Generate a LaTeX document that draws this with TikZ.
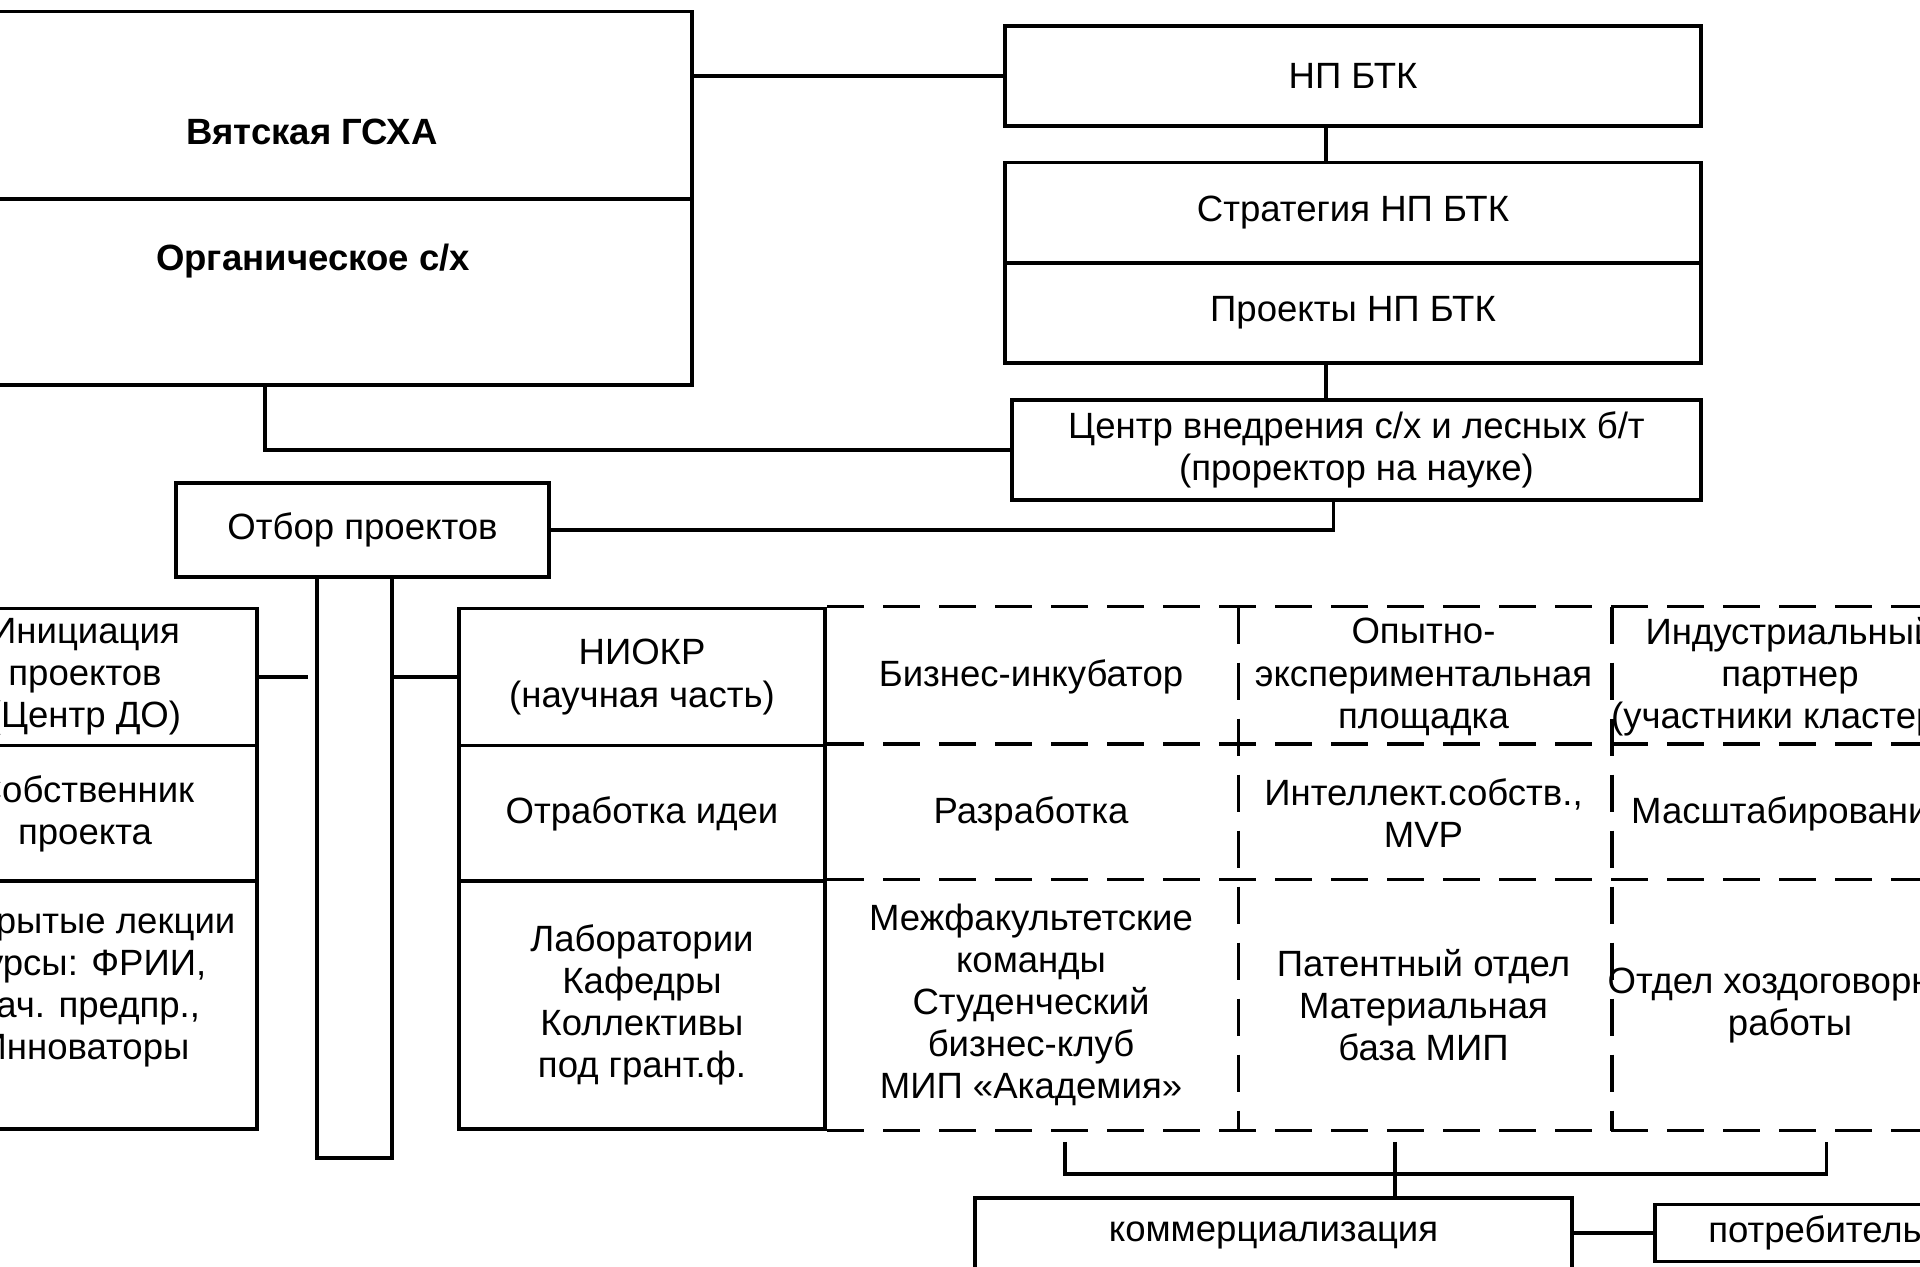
\documentclass[tikz,border=0pt]{standalone}
\usepackage{fontspec}
\setmainfont{Liberation Sans}
\begin{document}
\begin{tikzpicture}[x=0.1mm,y=-0.1mm,line width=1pt,
box/.style={draw,inner sep=0pt,align=center,font=\fontsize{10.4}{12}\selectfont},
cell/.style={box,draw=none},
btxt/.style={font=\bfseries\fontsize{10.4}{12}\selectfont},
dline/.style={dash pattern=on 3.7mm off 1.9mm}]
\useasboundingbox(0,0)rectangle(1920,1267);
\clip(0,0)rectangle(1920,1267);
% top left
\node[box,minimum width=76mm,minimum height=18.75mm](vgsha)at(312,105.25){};
\node[btxt](vgshat)at(312,132){Вятская ГСХА};
\node[box,minimum width=76mm,minimum height=18.6mm](org)at(312,292){};
\node[btxt](orgt)at(313,261){Органическое с/х};
% top right
\node[box,minimum width=69.6mm,minimum height=10mm](np)at(1353,76){НП БТК};
\node[box,minimum width=69.6mm,minimum height=10.05mm](strat)at(1353,213){Стратегия НП БТК};
\node[box,minimum width=69.6mm,minimum height=9.97mm](proj)at(1353,313){Проекты НП БТК};
\node[box,minimum width=68.9mm,minimum height=9.95mm](cvn)at(1356.5,450){Центр внедрения с/х и лесных б/т\\(проректор на науке)};
\node[box,minimum width=37.3mm,minimum height=9.4mm](otbor)at(362.5,530){Отбор проектов};
\node[box,minimum width=7.5mm,minimum height=58.1mm](bar)at(354.5,867.5){};
% left column
\node[box,minimum width=34.4mm,minimum height=13.71mm](ini)at(85,677){Инициация\\проектов\\(Центр ДО)};
\node[box,minimum width=34.4mm,minimum height=13.59mm](sob)at(85,813.5){Собственник\\проекта};
\node[box,minimum width=34.4mm,minimum height=24.75mm](lek)at(85,1005){Открытые лекции\\Курсы: ФРИИ,\\Нач. предпр.,\\Инноваторы\\\mbox{}};
% niokr column
\node[box,minimum width=36.65mm,minimum height=13.71mm](niokr)at(642,677){НИОКР\\(научная часть)};
\node[box,minimum width=36.65mm,minimum height=13.59mm](otr)at(642,813.5){Отработка идеи};
\node[box,minimum width=36.65mm,minimum height=24.75mm](lab)at(642,1005){Лаборатории\\Кафедры\\Коллективы\\под грант.ф.};
% dashed cells
\node[cell,minimum width=41.15mm,minimum height=13.71mm](biz)at(1031,677){Бизнес-инкубатор};
\node[cell,minimum width=41.15mm,minimum height=13.59mm](razr)at(1031,813.5){Разработка};
\node[cell,minimum width=41.15mm,minimum height=24.75mm](mezh)at(1031,1005){Межфакультетские\\команды\\Студенческий\\бизнес-клуб\\МИП «Академия»};
\node[cell,minimum width=37.3mm,minimum height=13.71mm](opyt)at(1423.5,677){Опытно-\\экспериментальная\\площадка};
\node[cell,minimum width=37.3mm,minimum height=13.59mm](intel)at(1423.5,813.5){Интеллект.собств.,\\MVP};
\node[cell,minimum width=37.3mm,minimum height=24.75mm](pat)at(1423.5,1005){Патентный отдел\\Материальная\\база МИП};
\node[cell,minimum width=36mm,minimum height=13.71mm](ind)at(1790,677){Индустриальный\\партнер\\(участники кластера)};
\node[cell,minimum width=36mm,minimum height=13.59mm](masht)at(1790,813.5){Масштабирование};
\node[cell,minimum width=36mm,minimum height=24.75mm](otdel)at(1790,1005){Отдел хоздоговорной\\работы};
\draw[dline](niokr.north east)--(ind.north east);
\draw[dline](otr.north east)--(masht.north east);
\draw[dline](lab.north east)--(otdel.north east);
\draw[dline](lab.south east)--(otdel.south east);
\draw[dline](biz.north east)--(mezh.south east);
\draw[dline](opyt.north east)--(pat.south east);
% bottom
\node[box,minimum width=59.7mm,minimum height=7.4mm](comm)at(1273.5,1235){коммерциализация};
\node[box,minimum width=32mm,minimum height=5.7mm](potr)at(1815,1233){потребитель};
\coordinate(bl)at(1065,1142);
\coordinate(bm)at(1395,1142);
\coordinate(br)at(1826.5,1142);
% connectors
\draw(vgsha.east|-np.west)--(np.west);
\draw([xshift=-2.7mm]np.south)--([xshift=-2.7mm]strat.north);
\draw([xshift=-2.7mm]proj.south)--([xshift=-2.7mm]proj.south|-cvn.north);
\draw([xshift=-4.7mm]org.south)|-(cvn.west);
\draw([xshift=-2.3mm]cvn.south)|-(otbor.east);
\draw(ini.east)--([xshift=-0.7mm]ini.east-|bar.west);
\draw(niokr.west-|bar.east)--(niokr.west);
\draw(bl)--++(0,32)-|(br);
\draw(bm)--(bm|-comm.north);
\draw(potr.west-|comm.east)--(potr.west);
\end{tikzpicture}
\end{document}
